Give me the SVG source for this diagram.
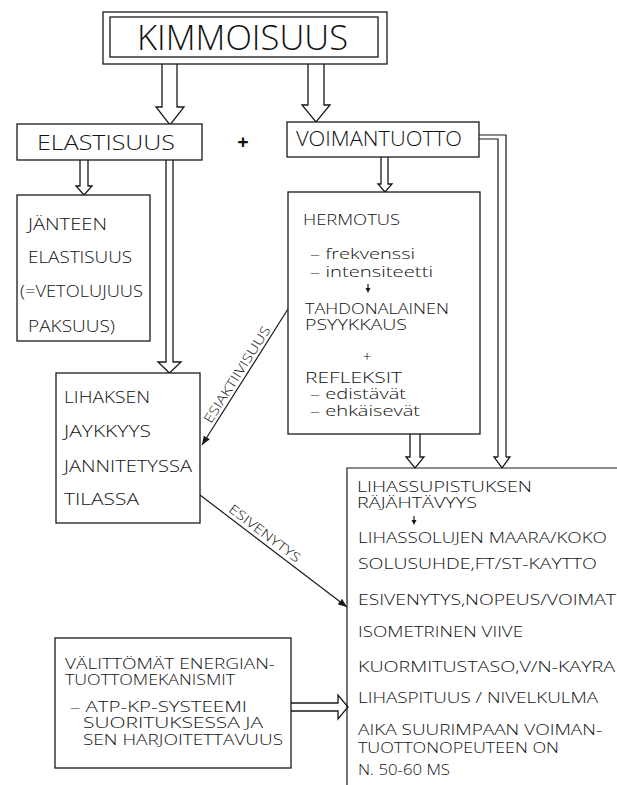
<svg xmlns="http://www.w3.org/2000/svg" width="617" height="785" viewBox="0 0 617 785">
<defs>
<marker id="ah" viewBox="0 0 10 10" refX="10" refY="5" markerWidth="9" markerHeight="9" orient="auto" markerUnits="userSpaceOnUse">
<path d="M0,1 L10,5 L0,9 Z" fill="#1a1a1a"/>
</marker>
<style>
rect.box{fill:#fff;stroke:#1a1a1a;stroke-width:1.3}
.hol{fill:#fff;stroke:#1a1a1a;stroke-width:1.3;stroke-linejoin:miter}
.ln{fill:none;stroke:#1a1a1a;stroke-width:1.2}
text{font-family:"Open Sans","Liberation Sans","DejaVu Sans",sans-serif;font-weight:300;fill:#111}
.t1{font-size:35px}
.t2{font-size:20px}
.t3{font-size:16px}
.t5{font-size:15px}
.t4{font-size:14.5px}
.lab{font-size:13px}
</style>
</defs>
<rect width="617" height="785" fill="#fff"/>

<g id="connectors">
<path class="hol" d="M162,64 V107 H156 L170,125 L184,107 H177 V64"/>
<path class="hol" d="M308,64 V105 H302 L316,122 L330,105 H324 V64"/>
<path class="hol" d="M80,160 V186 H76 L84,195 L92,186 H88 V160"/>
<path class="hol" d="M381,157 V184 H378 L385,192 L392,184 H388 V157"/>
<path class="hol" d="M166,160 V362 H158 L169.5,373 L181,362 H173 V160"/>
<path class="hol" d="M410,434 V457 H406 L415,468 L424,457 H420 V434"/>
<path class="ln" d="M479,135 H506 V457"/>
<path class="ln" d="M479,139 H498 V457"/>
<path class="hol" d="M498,457 H494 L502,468 L510,457 H506"/>
<path class="hol" d="M291,703 H338 V695 L348,707 L338,719 V711 H291"/>
<line class="ln" x1="288" y1="309" x2="202" y2="445" marker-end="url(#ah)"/>
<line class="ln" x1="200" y1="495" x2="347" y2="607" marker-end="url(#ah)"/>
<text class="lab" x="241" y="377" text-anchor="middle" transform="rotate(-57.7 241 377)" textLength="112" lengthAdjust="spacingAndGlyphs">ESIAKTIIVISUUS</text>
<text class="lab" x="262" y="537" text-anchor="middle" transform="rotate(37.3 262 537)" textLength="86" lengthAdjust="spacingAndGlyphs">ESIVENYTYS</text>
</g>

<g id="kimmoisuus">
<rect class="box" x="103" y="12" width="284" height="52"/>
<rect class="box" x="110" y="17" width="268" height="40"/>
<text class="t1" x="137" y="50" textLength="211" lengthAdjust="spacingAndGlyphs">KIMMOISUUS</text>
</g>

<g id="elastisuus">
<rect class="box" x="17" y="124" width="185" height="36"/>
<text class="t2" x="37" y="150" textLength="138" lengthAdjust="spacingAndGlyphs">ELASTISUUS</text>
</g>

<g id="plus">
<text class="t2" x="243" y="149" text-anchor="middle" style="font-weight:700">+</text>
</g>

<g id="voimantuotto">
<rect class="box" x="287" y="122" width="192" height="35"/>
<text class="t2" x="296" y="146" textLength="166" lengthAdjust="spacingAndGlyphs">VOIMANTUOTTO</text>
</g>

<g id="janteen">
<rect class="box" x="17" y="195" width="133" height="146"/>
<text class="t3" x="28" y="230" textLength="79" lengthAdjust="spacingAndGlyphs">JÄNTEEN</text>
<text class="t3" x="28" y="263" textLength="104" lengthAdjust="spacingAndGlyphs">ELASTISUUS</text>
<text class="t3" x="20" y="297" textLength="123" lengthAdjust="spacingAndGlyphs">(=VETOLUJUUS</text>
<text class="t3" x="28" y="332" textLength="87" lengthAdjust="spacingAndGlyphs">PAKSUUS)</text>
</g>

<g id="hermotus">
<rect class="box" x="288" y="192" width="192" height="242"/>
<text class="t5" x="303" y="225" textLength="97" lengthAdjust="spacingAndGlyphs">HERMOTUS</text>
<text class="t5" x="310" y="259" textLength="105" lengthAdjust="spacingAndGlyphs">– frekvenssi</text>
<text class="t5" x="310" y="277" textLength="123" lengthAdjust="spacingAndGlyphs">– intensiteetti</text>
<line class="ln" x1="368" y1="284" x2="368" y2="290"/>
<path d="M365.5,288 L370.5,288 L368,293 Z" fill="#1a1a1a"/>
<text class="t5" x="305" y="314" textLength="144" lengthAdjust="spacingAndGlyphs">TAHDONALAINEN</text>
<text class="t5" x="305" y="330" textLength="102" lengthAdjust="spacingAndGlyphs">PSYYKKAUS</text>
<text class="t5" x="367" y="362" text-anchor="middle">+</text>
<text class="t5" x="305" y="383" textLength="97" lengthAdjust="spacingAndGlyphs">REFLEKSIT</text>
<text class="t5" x="310" y="399" textLength="96" lengthAdjust="spacingAndGlyphs">– edistävät</text>
<text class="t5" x="310" y="416" textLength="110" lengthAdjust="spacingAndGlyphs">– ehkäisevät</text>
</g>

<g id="lihaksen">
<rect class="box" x="56" y="373" width="144" height="150"/>
<text class="t3" x="64" y="403" textLength="86" lengthAdjust="spacingAndGlyphs">LIHAKSEN</text>
<text class="t3" x="64" y="437" textLength="87" lengthAdjust="spacingAndGlyphs">JAYKKYYS</text>
<text class="t3" x="64" y="472" textLength="128" lengthAdjust="spacingAndGlyphs">JANNITETYSSA</text>
<text class="t3" x="64" y="505" textLength="75" lengthAdjust="spacingAndGlyphs">TILASSA</text>
</g>

<g id="lihassupistuksen">
<path class="ln" d="M347,786 V468 H618" stroke-width="1.3"/>
<text class="t4" x="357" y="492" textLength="175" lengthAdjust="spacingAndGlyphs">LIHASSUPISTUKSEN</text>
<text class="t4" x="357" y="508" textLength="120" lengthAdjust="spacingAndGlyphs">RÄJÄHTÄVYYS</text>
<line class="ln" x1="414" y1="516" x2="414" y2="522"/>
<path d="M411.5,520 L416.5,520 L414,525 Z" fill="#1a1a1a"/>
<text class="t4" x="358" y="543" textLength="249" lengthAdjust="spacingAndGlyphs">LIHASSOLUJEN MAARA/KOKO</text>
<text class="t4" x="358" y="569" textLength="239" lengthAdjust="spacingAndGlyphs">SOLUSUHDE,FT/ST-KAYTTO</text>
<text class="t4" x="358" y="605" textLength="258" lengthAdjust="spacingAndGlyphs">ESIVENYTYS,NOPEUS/VOIMAT</text>
<text class="t4" x="358" y="637" textLength="165" lengthAdjust="spacingAndGlyphs">ISOMETRINEN  VIIVE</text>
<text class="t4" x="358" y="672" textLength="257" lengthAdjust="spacingAndGlyphs">KUORMITUSTASO,V/N-KAYRA</text>
<text class="t4" x="358" y="703" textLength="240" lengthAdjust="spacingAndGlyphs">LIHASPITUUS / NIVELKULMA</text>
<text class="t4" x="358" y="735" textLength="244" lengthAdjust="spacingAndGlyphs">AIKA SUURIMPAAN VOIMAN-</text>
<text class="t4" x="358" y="753" textLength="201" lengthAdjust="spacingAndGlyphs">TUOTTONOPEUTEEN ON</text>
<text class="t4" x="358" y="775" textLength="92" lengthAdjust="spacingAndGlyphs">N. 50-60 MS</text>
</g>

<g id="valittomat">
<rect class="box" x="55" y="638" width="236" height="130"/>
<text class="t5" x="65" y="669" textLength="210" lengthAdjust="spacingAndGlyphs">VÄLITTÖMÄT ENERGIAN-</text>
<text class="t5" x="65" y="685" textLength="170" lengthAdjust="spacingAndGlyphs">TUOTTOMEKANISMIT</text>
<text class="t5" x="70" y="712" textLength="177" lengthAdjust="spacingAndGlyphs">– ATP-KP-SYSTEEMI</text>
<text class="t5" x="83" y="728" textLength="180" lengthAdjust="spacingAndGlyphs">SUORITUKSESSA  JA</text>
<text class="t5" x="83" y="745" textLength="200" lengthAdjust="spacingAndGlyphs">SEN  HARJOITETTAVUUS</text>
</g>
</svg>
